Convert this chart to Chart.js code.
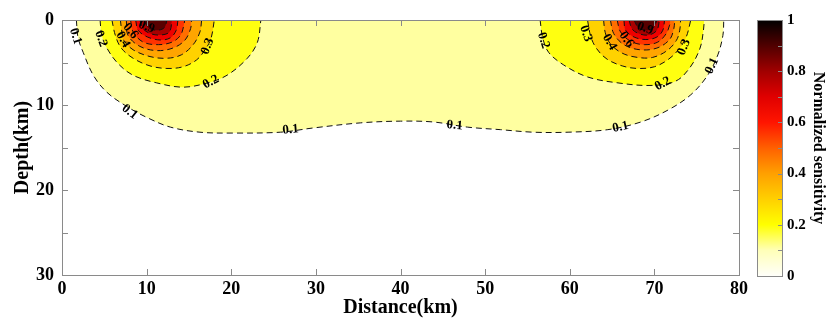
<!DOCTYPE html>
<html><head><meta charset="utf-8">
<script src="https://cdn.jsdelivr.net/npm/chart.js@4.4.1/dist/chart.umd.min.js"></script>
<style>
html,body{margin:0;padding:0;background:#fff;}
#wrap{position:relative;width:826px;height:320px;overflow:hidden;background:#fff;}
#main{position:absolute;left:0;top:0;}
#cbar{position:absolute;left:745px;top:0;}
</style></head><body>
<div id="wrap">
<canvas id="main" width="760" height="320"></canvas>
<canvas id="cbar" width="81" height="320"></canvas>
</div>
<script>
// ---- tick labels ----
const distanceTicks = [0,10,20,30,40,50,60,70,80];
const depthTicks = [0,10,20,30];
const colorbarTicks = [0,0.2,0.4,0.6,0.8,1];
// ---- contour levels ----
const levels = [0.1,0.2,0.3,0.4,0.5,0.6,0.7,0.8,0.9];
// ---- contour lines: [distance km, depth km] ----
const c01 = [[1.7,0],[1.9,2.1],[2.5,3.8],[3.7,6.5],[5.3,8.5],[7.7,10.2],[10.1,11.5],[12.8,12.6],[16.3,13.2],[20.2,13.3],[25.8,13.2],[29.7,12.7],[35.3,12.1],[40.0,11.9],[43.9,12.0],[47.9,12.6],[51.8,12.9],[55.7,13.2],[59.8,13.2],[64.5,12.9],[68.4,12.0],[71.6,10.6],[74.3,8.8],[76.3,6.5],[77.5,4.1],[78.1,1.8],[78.2,0]];
const c02L = [[4.5,0],[4.7,1.8],[5.3,3.3],[6.6,5.1],[8.4,6.5],[11.2,7.4],[14.3,7.9],[17.2,7.4],[19.5,6.5],[21.9,4.5],[23.1,2.6],[23.5,0]];
const c02R = [[56.5,0],[56.8,2.1],[57.5,3.8],[59.3,5.3],[62.1,6.7],[65.7,7.4],[69.6,7.7],[72.5,7.2],[74.2,5.6],[75.4,3.3],[75.8,1.2],[75.9,0]];
const c03L = [[5.9,0],[6.3,1.8],[7.0,3.3],[8.4,4.5],[10.4,5.4],[12.4,5.7],[14.3,5.5],[15.9,4.7],[16.9,3.5],[17.6,2.2],[18.0,0]];
const c03R = [[62.1,0],[62.5,2.0],[63.2,3.4],[64.4,4.6],[66.2,5.4],[68.0,5.7],[70.0,5.5],[71.7,4.6],[73.0,3.3],[73.8,1.9],[74.3,0]];
const c04L = [[6.9,0],[7.1,1.6],[7.3,2.4],[8.4,3.5],[10.4,4.3],[12.4,4.5],[14.1,4.1],[15.5,2.9],[16.3,1.4],[16.5,0]];
const c04R = [[64.0,0],[64.2,1.5],[64.8,2.8],[66.2,3.9],[68.0,4.4],[69.8,4.4],[71.5,3.6],[72.6,2.4],[73.0,1.2],[73.1,0]];
const c05L = [[7.6,0],[7.8,1.8],[9.2,3.1],[11.2,3.6],[13.1,3.3],[14.5,2.4],[15.2,1.0],[15.3,0]];
const c05R = [[64.8,0],[65.2,1.6],[66.4,2.9],[68.3,3.5],[70.3,3.3],[71.8,2.3],[72.3,1.0],[72.4,0]];
const c06L = [[8.1,0],[8.4,1.4],[9.6,2.6],[11.4,2.9],[13.0,2.6],[14.0,1.8],[14.4,0.6],[14.5,0]];
const c06R = [[65.6,0],[66.0,1.4],[67.2,2.5],[68.8,2.9],[70.4,2.6],[71.4,1.6],[71.8,0.6],[71.9,0]];
const c07L = [[8.7,0],[9.0,1.2],[10.1,2.0],[11.6,2.35],[12.8,2.1],[13.5,1.2],[13.7,0]];
const c07R = [[66.4,0],[66.6,1.2],[67.6,2.0],[69.0,2.3],[70.3,2.0],[71.0,1.2],[71.2,0]];
const c08L = [[9.2,0],[9.6,1.05],[10.6,1.65],[11.8,1.75],[12.7,1.4],[13.0,0]];
const c08R = [[67.0,0],[67.4,1.1],[68.3,1.65],[69.4,1.75],[70.3,1.2],[70.6,0]];
const c09L = [[9.7,0],[10.2,0.9],[11.2,1.2],[12.1,0.9],[12.4,0]];
const c09R = [[67.6,0],[68.1,0.9],[69.0,1.2],[69.9,0.9],[70.3,0]];
// contour label annotations: text, distance, depth, rotation (deg)
const contourLabels = [
  ['0.1',1.6,1.9,72],['0.2',4.6,2.2,70],['0.4',7.2,2.3,60],['0.6',8.1,1.3,50],['0.9',10.0,0.8,20],
  ['0.3',17.2,3.1,-68],['0.2',17.6,7.3,-28],['0.1',8.0,10.8,38],['0.1',27.0,12.9,-5],
  ['0.2',56.9,2.4,72],['0.3',61.9,1.6,70],['0.4',64.7,2.6,60],['0.6',66.7,2.3,55],['0.9',68.9,1.0,20],
  ['0.3',73.5,3.2,-68],['0.2',71.0,7.5,-28],['0.1',76.8,5.4,-65],['0.1',46.4,12.4,5],['0.1',66.0,12.6,-12]
];

const fillColors = ['#FFFFA0','#FFFF10','#FFD200','#FFA500','#FF6E00','#FF3200','#EE0000','#A80000','#580000'];
const contourSets = [[c01],[c02L,c02R],[c03L,c03R],[c04L,c04R],[c05L,c05R],[c06L,c06R],[c07L,c07R],[c08L,c08R],[c09L,c09R]];

const FONT = "'Liberation Serif','Times New Roman',serif";
const datasets = [];
contourSets.forEach((group, li) => {
  group.forEach(curve => {
    datasets.push({
      label: 'level ' + levels[li],
      data: curve.map(p => ({x: p[0], y: p[1]})),
      borderColor: '#111',
      borderWidth: 1,
      borderDash: [6, 4],
      backgroundColor: fillColors[li],
      fill: {value: 0},
      pointRadius: 0,
      tension: 0.35,
      order: 100 - li
    });
  });
});

const framePlugin = {
  id: 'frame',
  afterDatasetsDraw(chart) {
    const {ctx, chartArea: ca, scales: {x, y}} = chart;
    ctx.save();
    // contour labels
    ctx.fillStyle = '#000';
    ctx.font = 'bold 13px ' + FONT;
    ctx.textAlign = 'center';
    ctx.textBaseline = 'middle';
    contourLabels.forEach(([t, dx, dd, a]) => {
      const px = x.getPixelForValue(dx), py = y.getPixelForValue(dd);
      ctx.save();
      ctx.translate(px, py);
      ctx.rotate(a * Math.PI / 180);
      ctx.fillText(t, 0, 0);
      ctx.restore();
    });
    // frame
    ctx.strokeStyle = '#8a8a8a';
    ctx.lineWidth = 1;
    ctx.strokeRect(Math.round(ca.left) + 0.5, Math.round(ca.top) + 0.5, Math.round(ca.right - ca.left), Math.round(ca.bottom - ca.top));
    ctx.beginPath();
    for (let v = 10; v < 80; v += 10) {
      const px = Math.round(x.getPixelForValue(v)) + 0.5;
      ctx.moveTo(px, ca.bottom); ctx.lineTo(px, ca.bottom - 6);
      ctx.moveTo(px, ca.top); ctx.lineTo(px, ca.top + 6);
    }
    for (let v = 5; v < 30; v += 5) {
      const py = Math.round(y.getPixelForValue(v)) + 0.5;
      ctx.moveTo(ca.left, py); ctx.lineTo(ca.left + 6, py);
      ctx.moveTo(ca.right, py); ctx.lineTo(ca.right - 6, py);
    }
    ctx.stroke();
    ctx.restore();
  }
};

new Chart(document.getElementById('main'), {
  type: 'line',
  data: {datasets},
  options: {
    responsive: false,
    animation: false,
    layout: {padding: {top: 20, right: 21, left: 0, bottom: 0}},
    plugins: {legend: {display: false}, tooltip: {enabled: false}},
    scales: {
      x: {
        type: 'linear', min: 0, max: 80,
        afterBuildTicks(s) { s.ticks = distanceTicks.map(v => ({value: v})); },
        ticks: {font: {family: FONT, size: 18, weight: 'bold'}, color: '#000', padding: 4, maxRotation: 0, autoSkip: false},
        grid: {display: false, drawTicks: false},
        border: {display: false},
        title: {display: true, text: 'Distance(km)', color: '#000', font: {family: FONT, size: 20, weight: 'bold', lineHeight: 1.2}, padding: {top: 0, bottom: 0}},
        afterFit(s) { s.height = 45; }
      },
      y: {
        type: 'linear', min: 0, max: 30, reverse: true,
        afterBuildTicks(s) { s.ticks = depthTicks.map(v => ({value: v})); },
        ticks: {font: {family: FONT, size: 18, weight: 'bold'}, color: '#000', padding: 8, autoSkip: false},
        grid: {display: false, drawTicks: false},
        border: {display: false},
        title: {display: true, text: 'Depth(km)', color: '#000', font: {family: FONT, size: 20, weight: 'bold', lineHeight: 1.2}, padding: {top: 11, bottom: 0}},
        afterFit(s) { s.width = 62; }
      }
    }
  },
  plugins: [framePlugin]
});

// ---- colour bar ----
const cmapStops = [[0,'#FFFFFA'],[0.1,'#FFFFB8'],[0.2,'#FFFF00'],[0.3,'#FFD000'],[0.4,'#FFA000'],[0.5,'#FF6000'],[0.6,'#FF1500'],[0.7,'#E00000'],[0.8,'#A00000'],[0.9,'#500000'],[1,'#000000']];
const cbarFrame = {
  id: 'cbframe',
  afterDatasetsDraw(chart) {
    const {ctx, chartArea: ca, scales: {y}} = chart;
    ctx.save();
    ctx.strokeStyle = '#8a8a8a';
    ctx.lineWidth = 1;
    ctx.strokeRect(Math.round(ca.left) + 0.5, Math.round(ca.top) + 0.5, Math.round(ca.right - ca.left), Math.round(ca.bottom - ca.top));
    ctx.beginPath();
    for (let i = 1; i < 10; i++) {
      const py = Math.round(y.getPixelForValue(i / 10)) + 0.5;
      ctx.moveTo(ca.right, py); ctx.lineTo(ca.right - 4, py);
    }
    ctx.stroke();
    ctx.restore();
  }
};
new Chart(document.getElementById('cbar'), {
  type: 'bar',
  data: {labels: [''], datasets: [{
    data: [[0, 1]],
    barPercentage: 1, categoryPercentage: 1, borderWidth: 0,
    backgroundColor(c) {
      const ca = c.chart.chartArea;
      if (!ca) return '#ff0';
      const g = c.chart.ctx.createLinearGradient(0, ca.bottom, 0, ca.top);
      cmapStops.forEach(([s, col]) => g.addColorStop(s, col));
      return g;
    }
  }]},
  options: {
    responsive: false,
    animation: false,
    layout: {padding: {left: 12, top: 20, bottom: 44, right: 0}},
    plugins: {legend: {display: false}, tooltip: {enabled: false}},
    scales: {
      x: {display: false},
      y: {
        position: 'right', min: 0, max: 1,
        afterBuildTicks(s) { s.ticks = colorbarTicks.map(v => ({value: v})); },
        ticks: {font: {family: FONT, size: 15, weight: 'bold'}, color: '#000', padding: 5,
                callback: v => String(Math.round(v * 10) / 10)},
        grid: {display: false, drawTicks: false},
        border: {display: false},
        title: {display: true, text: 'Normalized sensitivity', color: '#000', font: {family: FONT, size: 16, weight: 'bold', lineHeight: 1}, padding: {top: 0, bottom: 0}},
        afterFit(s) { s.width = 44; }
      }
    }
  },
  plugins: [cbarFrame]
});
</script>
</body></html>
